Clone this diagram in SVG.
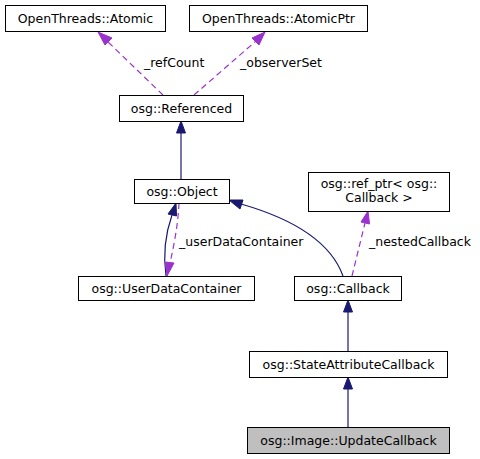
<svg xmlns="http://www.w3.org/2000/svg" width="480" height="459" viewBox="0 0 480 459">
<style>
.box{fill:#ffffff;stroke:#000000;stroke-width:1}
.cur{fill:#bfbfbf;stroke:#000000;stroke-width:1}
text{font-family:"DejaVu Sans","Liberation Sans",sans-serif;font-size:12.5px;fill:#000000}
.c{text-anchor:middle}
.inh{fill:none;stroke:#191970;stroke-width:1.2}
.inhh{fill:#191970;stroke:#191970}
.use{fill:none;stroke:#9a32cd;stroke-width:1.2;stroke-dasharray:6,4}
.useh{fill:#9a32cd;stroke:#9a32cd}
</style>
<rect width="480" height="459" fill="#ffffff"/>
<g id="connectors">
<path class="use" d="M163,95 L107,41"/>
<polygon class="useh" points="98,32 112,38 105,45"/>
<text x="144" y="67">_refCount</text>
<path class="use" d="M194,95 L256,41"/>
<polygon class="useh" points="265,32 259,45 252,38"/>
<text x="240" y="67">_observerSet</text>
<path class="inh" d="M181,179 L181,132"/>
<polygon class="inhh" points="181,121 185.5,133 176.5,133"/>
<path class="inh" d="M166,276 C163,255 165,235 172,215"/>
<polygon class="inhh" points="176,203 176.5,216 168,214"/>
<path class="use" d="M179,203 C178,225 174,245 170,263"/>
<polygon class="useh" points="167,276 165.5,262 174,263"/>
<text x="179" y="246">_userDataContainer</text>
<path class="inh" d="M343,276 C330,240 290,218 241,204"/>
<polygon class="inhh" points="229,200 243,200 240,209"/>
<path class="use" d="M352,276 L365,223"/>
<polygon class="useh" points="368,211 369.5,224 361,222"/>
<text x="369" y="246">_nestedCallback</text>
<path class="inh" d="M348,351 L348,312"/>
<polygon class="inhh" points="348,300 352.5,312 343.5,312"/>
<path class="inh" d="M348,427 L348,389"/>
<polygon class="inhh" points="348,377 352.5,389 343.5,389"/>
</g>
<g id="node-atomic">
<rect class="box" x="5.5" y="5.5" width="160" height="26"/>
<text class="c" x="85.5" y="22.5">OpenThreads::Atomic</text>
</g>
<g id="node-atomicptr">
<rect class="box" x="189.5" y="5.5" width="178" height="26"/>
<text class="c" x="278.5" y="22.5">OpenThreads::AtomicPtr</text>
</g>
<g id="node-referenced">
<rect class="box" x="119.5" y="95.5" width="124" height="26"/>
<text class="c" x="181.5" y="112.5">osg::Referenced</text>
</g>
<g id="node-object">
<rect class="box" x="134.5" y="179.5" width="95" height="24"/>
<text class="c" x="182" y="195.5">osg::Object</text>
</g>
<g id="node-refptr">
<rect class="box" x="308.5" y="172.5" width="141" height="39"/>
<text class="c" x="379" y="187.5">osg::ref_ptr&lt; osg::</text>
<text class="c" x="379" y="201.5">Callback &gt;</text>
</g>
<g id="node-udc">
<rect class="box" x="78.5" y="276.5" width="176" height="24"/>
<text class="c" x="166.5" y="292.5">osg::UserDataContainer</text>
</g>
<g id="node-callback">
<rect class="box" x="294.5" y="276.5" width="107" height="24"/>
<text class="c" x="348" y="292.5">osg::Callback</text>
</g>
<g id="node-sac">
<rect class="box" x="249.5" y="351.5" width="198" height="26"/>
<text class="c" x="348.5" y="368.5">osg::StateAttributeCallback</text>
</g>
<g id="node-update">
<rect class="cur" x="247.5" y="427.5" width="202" height="26"/>
<text class="c" x="348.5" y="444.5">osg::Image::UpdateCallback</text>
</g>
</svg>
